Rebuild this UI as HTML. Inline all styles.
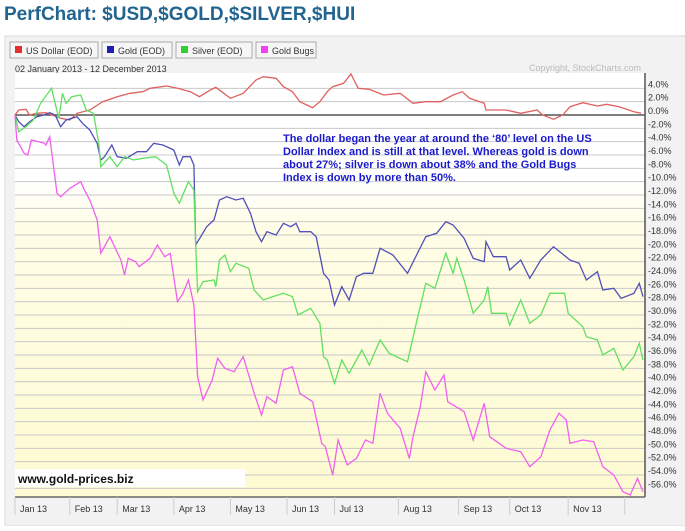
<!DOCTYPE html>
<html><head><meta charset="utf-8"><style>
body{margin:0;width:685px;height:526px;overflow:hidden;background:#fff;font-family:"Liberation Sans",sans-serif;}
</style></head><body>
<svg id="chart" width="685" height="526" xmlns="http://www.w3.org/2000/svg">
<defs><linearGradient id="yb" x1="0" y1="0" x2="0" y2="1"><stop offset="0" stop-color="#ffffff"/><stop offset="0.15" stop-color="#fffde6"/><stop offset="1" stop-color="#fefbd2"/></linearGradient></defs>
<text x="4" y="20" font-size="19" font-weight="bold" fill="#22648f">PerfChart: $USD,$GOLD,$SILVER,$HUI</text>
<rect x="5" y="36" width="685" height="490" fill="#f2f2f2" stroke="#d8d8d8"/>
<g id="legend"></g>
<text x="15" y="72" font-size="9" fill="#333">02 January 2013 - 12 December 2013</text>
<rect x="15" y="73" width="630" height="424" fill="#fff"/>
<rect x="15" y="180" width="630" height="317" fill="url(#yb)"/>
<text x="641" y="71" font-size="9" fill="#bbb" text-anchor="end">Copyright, StockCharts.com</text>
<g id="grid"></g><g id="series"></g><g id="axes"></g>
<text font-size="11" font-weight="bold" fill="#1a1acc">
<tspan x="283" y="142">The dollar began the year at around the ‘80’ level on the US</tspan>
<tspan x="283" y="155">Dollar Index and is still at that level. Whereas gold is down</tspan>
<tspan x="283" y="168">about 27%; silver is down about 38% and the Gold Bugs</tspan>
<tspan x="283" y="181">Index is down by more than 50%.</tspan></text>
<rect x="15" y="469" width="230" height="18" fill="#fff"/>
<text x="18" y="483" font-size="12" font-weight="bold" fill="#111">www.gold-prices.biz</text>
</svg>
<script>
const seriesNames=["US Dollar (EOD)","Gold (EOD)","Silver (EOD)","Gold Bugs"];
const seriesColors=["#e03030","#2020b0","#30d030","#f040f0"];
const lineColors=["#e06060","#5050b8","#60e060","#f060f0"];
const monthLabels=["Jan 13","Feb 13","Mar 13","Apr 13","May 13","Jun 13","Jul 13","Aug 13","Sep 13","Oct 13","Nov 13"];
const monthStartDays=[0,30,56,87,118,149,175,210,243,271,303];
const monthEndDay=334;
const yTicks=[4,2,0,-2,-4,-6,-8,-10,-12,-14,-16,-18,-20,-22,-24,-26,-28,-30,-32,-34,-36,-38,-40,-42,-44,-46,-48,-50,-52,-54,-56];
const usdDays=[0,2,6,8,12,17,25,30,34,41,48,56,63,70,74,83,89,96,101,107,110,118,125,132,136,143,147,152,156,163,167,171,174,180,184,188,194,202,211,218,225,233,240,245,249,257,258,269,277,286,289,295,300,304,311,319,324,331,339,343];
const usdVals=[0,0.75,0.85,0,0.25,0.35,-0.5,-0.75,0.25,0.75,2,2.75,3.25,3.5,4,4.35,4,3.5,2.75,3.75,4.15,2.5,3.25,5.25,5.75,5.5,4.25,3.5,2,1.1,2,3.5,4.25,4.75,6.15,4,3.85,3,3.25,1.75,2,2,3,3.5,2.5,1.75,0.75,0.75,0.25,0.75,0,-0.65,0,1.25,1.85,1.35,1.6,1.25,0.5,0.25];
const goldDays=[0,2,5,8,12,16,19,22,25,28,34,37,41,45,47,49,53,56,61,67,72,76,81,87,90,92,96,98,99,105,109,112,116,121,125,129,132,135,138,143,147,151,154,156,162,165,169,172,175,179,183,187,191,196,200,207,215,220,225,231,236,240,246,251,257,258,262,269,271,277,282,288,295,304,309,313,319,322,328,332,339,342,344];
const goldVals=[0,-1,-1.75,-1,-0.25,0,0.35,0,-1.75,-0.75,-0.25,-1.25,-2.25,-4.25,-6.75,-6.25,-4.5,-6.25,-6.5,-5.5,-5.5,-4.25,-4.5,-5.25,-7.5,-6.25,-6.25,-7.5,-19.5,-16.75,-15.75,-12.75,-12.25,-12.75,-12.5,-14.75,-17.5,-19,-17.5,-18,-16.25,-16.75,-16.25,-17.5,-17.5,-18.25,-23.75,-24.75,-28.5,-25.75,-27.75,-24.25,-23.75,-23.75,-20,-21,-23.75,-21,-18.25,-17.75,-16,-16.5,-18.5,-21.5,-22,-19,-21.25,-21.25,-23.25,-21.75,-24.5,-21.75,-19.75,-21.75,-22.25,-24.75,-23.5,-26.25,-26,-27.5,-26.75,-25.25,-27.25];
const silverDays=[0,2,6,10,14,20,24,26,28,31,36,39,43,46,47,52,56,60,65,70,77,83,87,90,95,98,99,100,103,109,110,112,115,118,121,128,131,136,141,147,152,155,162,167,169,171,175,179,183,187,190,194,200,205,215,220,225,230,236,240,242,246,251,257,259,261,269,271,277,282,288,293,301,303,311,313,319,322,328,333,339,342,344];
const silverVals=[0,-2.5,-1.75,-0.75,1.75,4,-0.5,3.25,1.75,2.75,3,0.75,0.25,-4.5,-7.75,-6.25,-7.75,-6.25,-6.75,-6.5,-6.25,-7.5,-11.75,-13.25,-10,-11.25,-19.5,-26.5,-25,-24.75,-25.75,-21.75,-21,-23.5,-22.25,-23,-26.25,-27.75,-27.25,-26.75,-27.25,-30,-29,-31.25,-36.25,-36.75,-40.25,-36.75,-38.75,-36.75,-35.25,-37.5,-33.75,-35.75,-37,-31,-25.25,-26,-20.75,-23.75,-21.5,-24.75,-29.75,-27.75,-25.75,-29.75,-29.75,-31.5,-27.75,-31.25,-30,-26.75,-26.75,-29.75,-31.75,-33.25,-33.75,-36,-35,-38.25,-36.25,-34.25,-36.75];
const huiDays=[0,1,5,7,9,13,16,17,19,23,25,28,30,36,38,41,45,47,52,58,60,62,66,68,74,78,82,85,89,92,95,98,100,103,108,111,115,120,125,131,135,138,143,147,152,156,163,168,170,174,177,182,187,192,196,200,204,211,216,218,222,225,230,235,237,246,251,257,260,269,277,282,288,293,298,302,304,311,317,322,328,333,337,341,344];
const huiVals=[0,-3.75,-5.75,-6,-3.75,-4,-4.25,-4.5,-3.25,-11.75,-12.25,-11.5,-11,-10,-11.25,-12.75,-15.75,-20.75,-18.25,-21.75,-24,-21.5,-22,-22.75,-21.5,-19.5,-21.25,-20.75,-28,-26.75,-24.75,-28.5,-39.25,-42.75,-39.75,-36.5,-38,-38.5,-36.25,-41.75,-45,-42.25,-43.25,-38.25,-37.75,-41.75,-43,-49.25,-49.75,-54,-48.75,-52.5,-51.5,-48.75,-49.25,-41.75,-44.75,-47,-51.5,-48.25,-43.75,-38.5,-41.25,-39,-43,-44.5,-48.75,-43.25,-48.25,-50,-50.5,-52.75,-51.25,-47.25,-44.75,-45.75,-49.25,-48.75,-49,-52.75,-54,-56.5,-57,-54.5,-56.5];

const NS="http://www.w3.org/2000/svg";
const X0=15,X1=643,DMAX=344,Y0=115,PPP=6.667;
const xs=d=>X0+d*(X1-X0)/DMAX;
const ys=v=>Y0-v*PPP;
function mk(tag,attrs,parent){const e=document.createElementNS(NS,tag);for(const k in attrs)e.setAttribute(k,attrs[k]);parent.appendChild(e);return e;}
const grid=document.getElementById('grid'),axes=document.getElementById('axes'),ser=document.getElementById('series'),leg=document.getElementById('legend');
yTicks.forEach(t=>{
  const l=mk('line',{x1:15,x2:645,y1:ys(t),y2:ys(t),stroke:t===0?'#333':'#c8c8c8','stroke-width':t===0?1.2:1},grid);
  
  
  const tx=mk('text',{x:648,y:ys(t)-1,'font-size':9,fill:'#333'},axes);
  tx.textContent=t.toFixed(1)+'%';
  
  
});
const ax=mk('line',{x1:645,x2:645,y1:73,y2:497,stroke:'#555','stroke-width':1.5},axes);


const bx=mk('line',{x1:15,x2:645,y1:497,y2:497,stroke:'#666','stroke-width':1.5},axes);


monthLabels.forEach((m,i)=>{
  const x=xs(monthStartDays[i]);
  const tk=mk('line',{x1:x,x2:x,y1:497,y2:515,stroke:'#ccc'},axes);
  
  
  const t=mk('text',{x:x+5,y:512,'font-size':9,fill:'#333'},axes);
  t.textContent=m;
  
  
});
const xe=xs(monthEndDay);
const tkEnd=mk('line',{x1:xe,x2:xe,y1:497,y2:515,stroke:'#ccc'},axes);


const allDays=[usdDays,goldDays,silverDays,huiDays],allVals=[usdVals,goldVals,silverVals,huiVals];
const sNames=['usd-line','gold-line','silver-line','hui-line'];
allDays.forEach((ds,i)=>{
  const pts=ds.map((d,j)=>xs(d).toFixed(1)+','+ys(allVals[i][j]).toFixed(1)).join(' ');
  const p=mk('polyline',{points:pts,fill:'none',stroke:lineColors[i],'stroke-width':1.3},ser);
  
  
});
let lx=10;const widths=[88,70,76,60];
seriesNames.forEach((n,i)=>{
  const g=mk('g',{},leg);
  
  
  mk('rect',{x:lx,y:42,width:widths[i],height:16,fill:'#f6f6f6',stroke:'#aaa'},g);
  mk('rect',{x:lx+5,y:46,width:7,height:7,fill:seriesColors[i]},g);
  const t=mk('text',{x:lx+16,y:54,'font-size':9,fill:'#333'},g);
  t.textContent=n;
  lx+=widths[i]+4;
});
</script>
</body></html>
